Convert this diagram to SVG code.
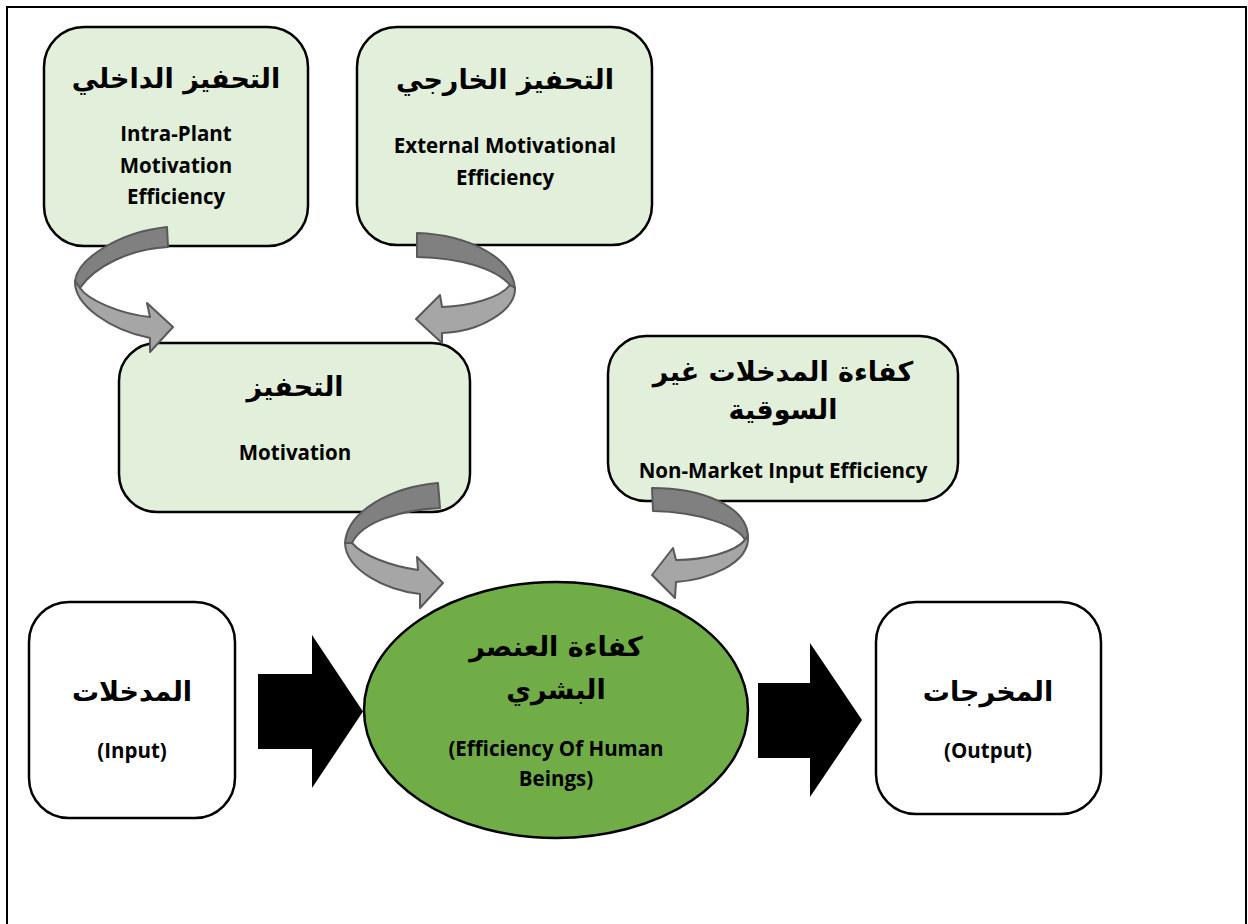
<svg xmlns="http://www.w3.org/2000/svg" width="1248" height="924" viewBox="0 0 1248 924">
<style>
.box{fill:#E2EFDA;stroke:#000;stroke-width:2.5}
.wbox{fill:#FFFFFF;stroke:#000;stroke-width:2.5}
.ar{font-family:"DejaVu Sans","Noto Sans",sans-serif;font-weight:bold;font-size:27px;fill:#000;text-anchor:middle}
.en{font-family:"Open Sans","Liberation Sans",sans-serif;font-weight:bold;font-size:20.5px;fill:#000;text-anchor:middle}
.dk{fill:#808080;stroke:#595959;stroke-width:2;stroke-linejoin:round}
.lt{fill:#A6A6A6;stroke:#595959;stroke-width:2;stroke-linejoin:round}
.blk{fill:#000}
</style>
<rect x="0" y="0" width="1248" height="924" fill="#FFFFFF"/>
<rect x="7" y="7" width="1239" height="930" fill="none" stroke="#000" stroke-width="2"/>

<g id="intra">
<rect class="box" x="44" y="27" width="264" height="219" rx="40"/>
<text class="ar" x="176" y="88">التحفيز الداخلي</text>
<text class="en" x="176" y="141">Intra-Plant</text>
<text class="en" x="176" y="173">Motivation</text>
<text class="en" x="176" y="204">Efficiency</text>
</g>
<g id="external">
<rect class="box" x="357" y="27" width="295" height="218" rx="40"/>
<text class="ar" x="505" y="89">التحفيز الخارجي</text>
<text class="en" x="505" y="153">External Motivational</text>
<text class="en" x="505" y="185">Efficiency</text>
</g>
<g id="motivation">
<rect class="box" x="119" y="343" width="351" height="169" rx="38"/>
<text class="ar" x="295" y="396">التحفيز</text>
<text class="en" x="295" y="460">Motivation</text>
</g>
<g id="nonmarket">
<rect class="box" x="608" y="336" width="350" height="165" rx="38"/>
<text class="ar" x="783" y="381">كفاءة المدخلات غير</text>
<text class="ar" x="783" y="419">السوقية</text>
<text class="en" x="783" y="478">Non-Market Input Efficiency</text>
</g>
<g id="input">
<rect class="wbox" x="29" y="602" width="206" height="216" rx="40"/>
<text class="ar" x="132" y="701">المدخلات</text>
<text class="en" x="132" y="758">(Input)</text>
</g>
<g id="output">
<rect class="wbox" x="876" y="602" width="225" height="212" rx="40"/>
<text class="ar" x="988" y="701">المخرجات</text>
<text class="en" x="988" y="758">(Output)</text>
</g>
<g id="human">
<ellipse cx="556" cy="710" rx="192" ry="128" fill="#70AD47" stroke="#000" stroke-width="2.5"/>
<text class="ar" x="556" y="656">كفاءة العنصر</text>
<text class="ar" x="556" y="699">البشري</text>
<text class="en" x="556" y="756">(Efficiency Of Human</text>
<text class="en" x="556" y="786">Beings)</text>
</g>

<g id="connectors">
<path class="dk" d="M167,227 C120,232 78,258 75,281 L80,288 C95,266 130,249 168,247 Z"/>
<path class="lt" d="M75,281 C74,305 110,330 150,338 L150,352 L173,327 L147,303 L150,317 C120,314 88,300 80,288 Z"/>

<path class="dk" d="M417,233 C470,235 512,258 515,288 L510,285 C495,268 460,258 417,257 Z"/>
<path class="lt" d="M515,288 C516,310 480,332 442,333 L442,343 L416,319 L440,295 L442,307 C470,306 500,298 510,285 Z"/>

<path class="dk" d="M438,483 C390,487 347,512 345,543 L352,543 C362,522 400,510 440,508 Z"/>
<path class="lt" d="M345,543 C346,570 385,590 420,594 L420,608 L443,583 L417,557 L418,570 C390,566 362,555 352,543 Z"/>

<path class="dk" d="M652,488 C700,488 746,505 748,536 L745,540 C738,526 700,512 653,511 Z"/>
<path class="lt" d="M748,536 C750,565 705,580 676,582 L675,598 L652,575 L673,548 L676,560 C705,560 735,552 745,540 Z"/>

<polygon class="blk" points="258,674 312,674 312,635 363,711.5 312,788 312,749 258,749"/>
<polygon class="blk" points="758,683 810,683 810,643 862,720 810,797 810,758 758,758"/>
</g>
</svg>
